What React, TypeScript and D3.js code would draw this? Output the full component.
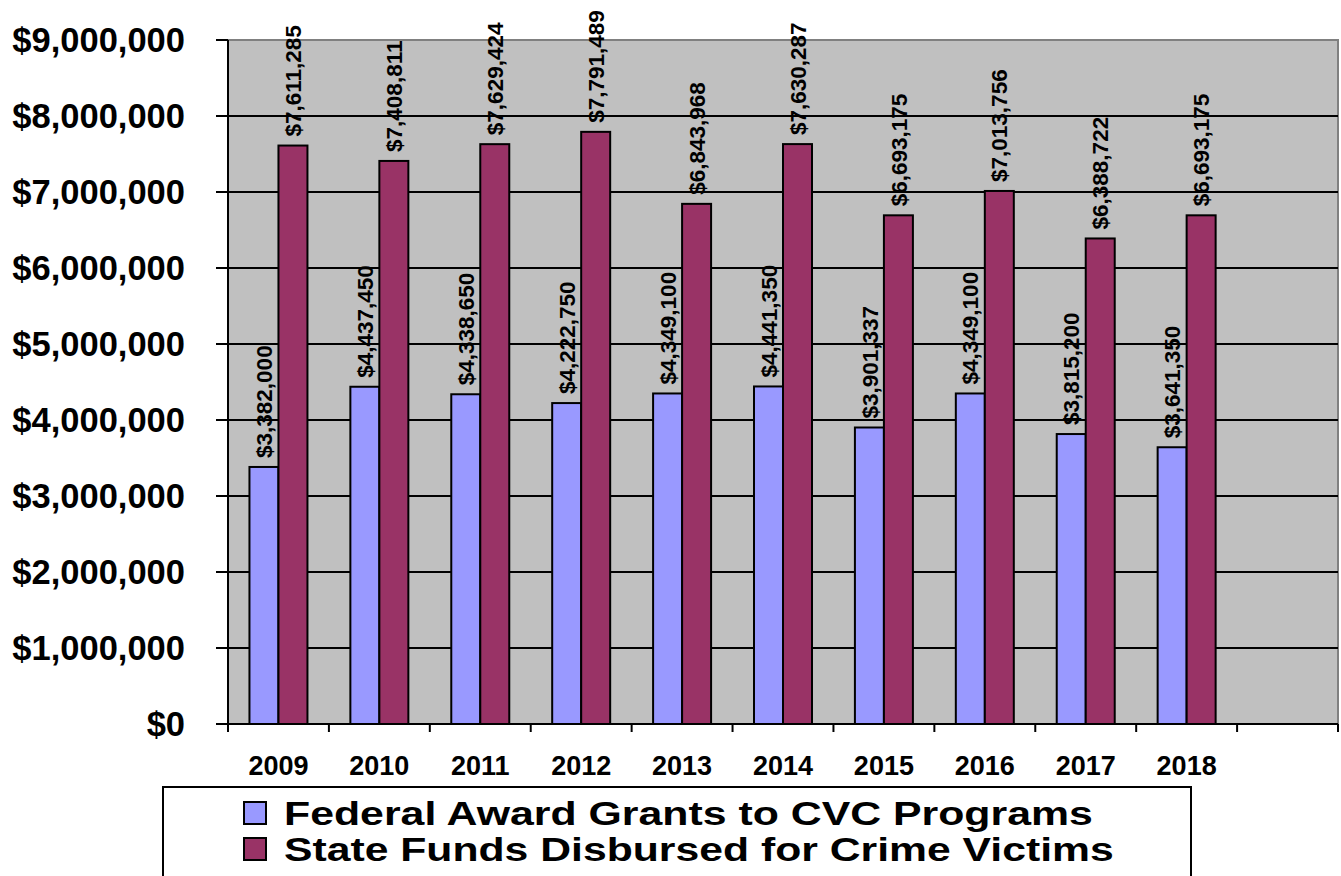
import { useEffect, useRef } from "react";
import * as d3 from "d3";

// years on the category axis (the chart keeps one empty slot at the end)
const years = ["2009", "2010", "2011", "2012", "2013", "2014", "2015", "2016", "2017", "2018", ""];
const federalGrants = [3382000, 4437450, 4338650, 4222750, 4349100, 4441350, 3901337, 4349100, 3815200, 3641350];
const stateFunds = [7611285, 7408811, 7629424, 7791489, 6843968, 7630287, 6693175, 7013756, 6388722, 6693175];
const seriesNames = ["Federal Award Grants to CVC Programs", "State Funds Disbursed for Crime Victims"];
const seriesKeys = ["federal", "state"];
const yTicks = [0, 1000000, 2000000, 3000000, 4000000, 5000000, 6000000, 7000000, 8000000, 9000000];

const App = () => {
    const svgRef = useRef(null);

    useEffect(() => {
        const svg = d3.select(svgRef.current);
        const width = 1341;
        const height = 876;
        const font = "'Liberation Sans', Arial, sans-serif";

        svg.selectAll("*").remove();

        const left = 228;
        const right = 1338;
        const top = 40;
        const bottom = 724;

        const x0 = d3.scaleBand().domain(years).range([left, right]);
        const x1 = d3.scaleBand().domain(seriesKeys).range([0, x0.bandwidth()]).paddingOuter(0.74);
        const y = d3.scaleLinear().domain([0, 9000000]).range([bottom, top]);
        const color = d3.scaleOrdinal().domain(seriesKeys).range(["#9999FF", "#993366"]);
        const money = d3.format("$,");

        // plot background
        svg.append("rect")
            .attr("x", left).attr("y", top)
            .attr("width", right - left).attr("height", bottom - top)
            .attr("fill", "#C0C0C0")
            .attr("stroke", "#808080")
            .attr("stroke-width", 2);

        // gridlines
        svg.append("g")
            .selectAll("line")
            .data(yTicks.filter((t) => t > 0 && t < 9000000))
            .join("line")
            .attr("x1", left).attr("x2", right)
            .attr("y1", (d) => y(d)).attr("y2", (d) => y(d))
            .attr("stroke", "#000")
            .attr("stroke-width", 2);

        // y axis
        const yAxis = svg.append("g");
        yAxis.append("line")
            .attr("x1", left).attr("x2", left)
            .attr("y1", top).attr("y2", bottom)
            .attr("stroke", "#000").attr("stroke-width", 2);
        yAxis.selectAll("line.tick")
            .data(yTicks)
            .join("line")
            .attr("class", "tick")
            .attr("x1", left - 12).attr("x2", left)
            .attr("y1", (d) => y(d)).attr("y2", (d) => y(d))
            .attr("stroke", "#000").attr("stroke-width", 2);
        yAxis.selectAll("text")
            .data(yTicks)
            .join("text")
            .attr("x", 185)
            .attr("y", (d) => y(d) + 12)
            .attr("text-anchor", "end")
            .attr("font-family", font)
            .attr("font-weight", "bold")
            .attr("font-size", 34.5)
            .text((d) => money(d));

        // bars
        const rows = years.slice(0, federalGrants.length).map((yr, i) => ({
            year: yr,
            values: [
                { key: "federal", value: federalGrants[i] },
                { key: "state", value: stateFunds[i] },
            ],
        }));

        const groups = svg.append("g")
            .selectAll("g")
            .data(rows)
            .join("g")
            .attr("transform", (d) => `translate(${x0(d.year)},0)`);

        groups.selectAll("rect")
            .data((d) => d.values)
            .join("rect")
            .attr("x", (d) => x1(d.key))
            .attr("y", (d) => y(d.value))
            .attr("width", x1.bandwidth())
            .attr("height", (d) => bottom - y(d.value))
            .attr("fill", (d) => color(d.key))
            .attr("stroke", "#000")
            .attr("stroke-width", 2);

        // value labels, rotated
        groups.selectAll("text")
            .data((d) => d.values)
            .join("text")
            .attr("transform", (d) => `translate(${x1(d.key) + x1.bandwidth() / 2},${y(d.value) - 9}) rotate(-90)`)
            .attr("dy", "0.36em")
            .attr("font-family", font)
            .attr("font-weight", "bold")
            .attr("font-size", 22.5)
            .text((d) => money(d.value));

        // x axis
        svg.append("line")
            .attr("x1", left).attr("x2", right)
            .attr("y1", bottom).attr("y2", bottom)
            .attr("stroke", "#000").attr("stroke-width", 2);
        svg.append("g")
            .selectAll("line")
            .data(years.map((yr) => x0(yr)).concat([right]))
            .join("line")
            .attr("x1", (d) => d).attr("x2", (d) => d)
            .attr("y1", bottom).attr("y2", bottom + 8)
            .attr("stroke", "#000").attr("stroke-width", 2);
        svg.append("g")
            .selectAll("text")
            .data(years)
            .join("text")
            .attr("x", (d) => x0(d) + x0.bandwidth() / 2)
            .attr("y", 775)
            .attr("text-anchor", "middle")
            .attr("font-family", font)
            .attr("font-weight", "bold")
            .attr("font-size", 27)
            .text((d) => d);

        // legend
        const legend = svg.append("g");
        legend.append("rect")
            .attr("x", 163).attr("y", 787)
            .attr("width", 1191 - 163).attr("height", 120)
            .attr("fill", "#fff")
            .attr("stroke", "#000").attr("stroke-width", 2);
        const textWidths = [809, 830];
        seriesKeys.forEach((k, i) => {
            const rowY = 802 + i * 36;
            legend.append("rect")
                .attr("x", 244).attr("y", rowY)
                .attr("width", 22).attr("height", 22)
                .attr("fill", color(k))
                .attr("stroke", "#000").attr("stroke-width", 2);
            const label = legend.append("text")
                .attr("font-family", font)
                .attr("font-weight", "bold")
                .attr("font-size", 33)
                .text(seriesNames[i]);
            const natural = label.node().getComputedTextLength();
            label.attr("transform", `translate(284,${rowY + 23}) scale(${textWidths[i] / natural},1)`);
        });

        svg.attr("viewBox", `0 0 ${width} ${height}`);
    }, []);

    return (
        <svg
            ref={svgRef}
            width={1341}
            height={876}
            style={{ position: "absolute", left: 0, top: 0, background: "#fff" }}
        />
    );
};

export default App;
